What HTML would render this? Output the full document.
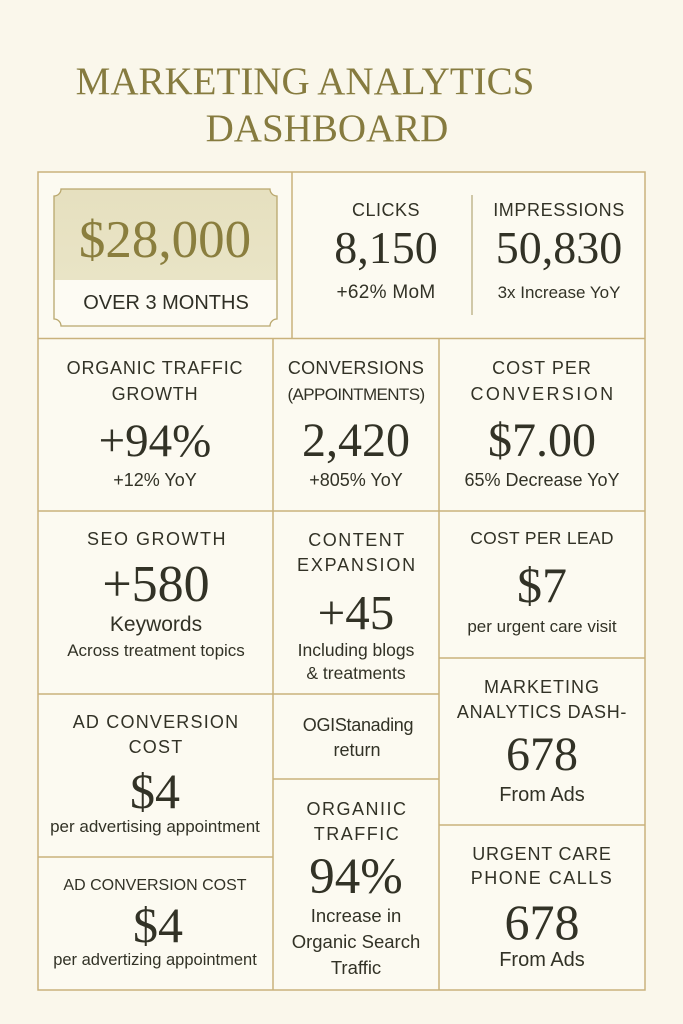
<!DOCTYPE html>
<html><head><meta charset="utf-8">
<style>
html,body{margin:0;padding:0;}
body{width:683px;height:1024px;background:#faf7eb;position:relative;overflow:hidden;}
.t{position:absolute;text-align:center;white-space:nowrap;line-height:1;color:#323226;}
.s{font-family:"Liberation Sans","DejaVu Sans",sans-serif;}
.r{font-family:"Liberation Serif","DejaVu Serif",serif;}
</style></head><body>
<svg width="683" height="1024" style="position:absolute;left:0;top:0">
  <defs>
    <linearGradient id="bx" x1="0" y1="0" x2="0" y2="1">
      <stop offset="0" stop-color="#e6e0bf"/>
      <stop offset="0.664" stop-color="#e9e4c6"/>
      <stop offset="0.664" stop-color="#fdfbf3"/>
      <stop offset="1" stop-color="#fdfbf3"/>
    </linearGradient>
  </defs>
  <rect x="38" y="172" width="607" height="818" fill="#fcfaf1"/>
  <g stroke="#c9b27c" stroke-width="1.5" fill="none">
    <rect x="38" y="172" width="607" height="818"/>
    <line x1="38" y1="338.5" x2="645" y2="338.5"/>
    <line x1="292" y1="172" x2="292" y2="338.5"/>
    <line x1="273" y1="338.5" x2="273" y2="990"/>
    <line x1="439" y1="338.5" x2="439" y2="990"/>
    <line x1="38" y1="511" x2="645" y2="511"/>
    <line x1="38" y1="694" x2="439" y2="694"/>
    <line x1="439" y1="658" x2="645" y2="658"/>
    <line x1="273" y1="779" x2="439" y2="779"/>
    <line x1="38" y1="857" x2="273" y2="857"/>
    <line x1="439" y1="825" x2="645" y2="825"/>
  </g>
  <line x1="472" y1="195" x2="472" y2="315" stroke="#b3a679" stroke-width="1.2"/>
  <path d="M61,189 H270 A7,7 0 0 0 277,196 V319 A7,7 0 0 0 270,326 H61 A7,7 0 0 0 54,319 V196 A7,7 0 0 0 61,189 Z" fill="url(#bx)" stroke="#b9a76d" stroke-width="1.3"/>
</svg>

<!-- Title -->
<div class="t r" style="left:5px;width:600px;top:61.5px;font-size:39px;color:#867b3f;">MARKETING ANALYTICS</div>
<div class="t r" style="left:27px;width:600px;top:108.5px;font-size:39px;color:#867b3f;">DASHBOARD</div>

<!-- $28,000 box -->
<div class="t r" style="left:15px;width:300px;top:213.5px;font-size:53px;color:#8a7e3e;">$28,000</div>
<div class="t s" style="left:16px;width:300px;top:293px;font-size:20px;color:#2f2f25;">OVER 3 MONTHS</div>

<!-- Clicks / Impressions -->
<div class="t s" style="left:236px;width:300px;top:201px;font-size:18px;letter-spacing:0.5px;">CLICKS</div>
<div class="t r" style="left:236px;width:300px;top:225px;font-size:46px;">8,150</div>
<div class="t s" style="left:236px;width:300px;top:282.5px;font-size:19px;letter-spacing:0.3px;">+62% MoM</div>
<div class="t s" style="left:409px;width:300px;top:201px;font-size:18px;letter-spacing:0.6px;">IMPRESSIONS</div>
<div class="t r" style="left:409px;width:300px;top:225px;font-size:46px;">50,830</div>
<div class="t s" style="left:409px;width:300px;top:283.5px;font-size:17px;">3x Increase YoY</div>

<!-- Row 2 -->
<div class="t s" style="left:5px;width:300px;top:359px;font-size:18px;letter-spacing:0.8px;">ORGANIC TRAFFIC</div>
<div class="t s" style="left:5px;width:300px;top:385px;font-size:18px;letter-spacing:0.8px;">GROWTH</div>
<div class="t r" style="left:5px;width:300px;top:417.5px;font-size:47px;">+94%</div>
<div class="t s" style="left:5px;width:300px;top:471px;font-size:18px;">+12% YoY</div>

<div class="t s" style="left:206px;width:300px;top:359px;font-size:18px;letter-spacing:0.3px;">CONVERSIONS</div>
<div class="t s" style="left:206px;width:300px;top:385.5px;font-size:17px;letter-spacing:-0.6px;">(APPOINTMENTS)</div>
<div class="t r" style="left:206px;width:300px;top:417px;font-size:48px;">2,420</div>
<div class="t s" style="left:206px;width:300px;top:471px;font-size:18px;">+805% YoY</div>

<div class="t s" style="left:392px;width:300px;top:359px;font-size:18px;letter-spacing:1px;">COST PER</div>
<div class="t s" style="left:393px;width:300px;top:385px;font-size:18px;letter-spacing:2.4px;">CONVERSION</div>
<div class="t r" style="left:392px;width:300px;top:417px;font-size:48px;">$7.00</div>
<div class="t s" style="left:392px;width:300px;top:471px;font-size:18px;">65% Decrease YoY</div>

<!-- Row 3 -->
<div class="t s" style="left:7px;width:300px;top:530px;font-size:18px;letter-spacing:1.5px;">SEO GROWTH</div>
<div class="t r" style="left:6px;width:300px;top:559px;font-size:52px;">+580</div>
<div class="t s" style="left:6px;width:300px;top:614px;font-size:21px;">Keywords</div>
<div class="t s" style="left:6px;width:300px;top:642px;font-size:17px;">Across treatment topics</div>

<div class="t s" style="left:207px;width:300px;top:531px;font-size:18px;letter-spacing:1.5px;">CONTENT</div>
<div class="t s" style="left:207px;width:300px;top:556px;font-size:18px;letter-spacing:1.8px;">EXPANSION</div>
<div class="t r" style="left:206px;width:300px;top:587.5px;font-size:49px;">+45</div>
<div class="t s" style="left:206px;width:300px;top:641.75px;font-size:17.5px;">Including blogs</div>
<div class="t s" style="left:206px;width:300px;top:665px;font-size:17.5px;">&amp; treatments</div>

<div class="t s" style="left:392px;width:300px;top:530px;font-size:17.5px;letter-spacing:0.3px;">COST PER LEAD</div>
<div class="t r" style="left:392px;width:300px;top:560px;font-size:50px;">$7</div>
<div class="t s" style="left:392px;width:300px;top:617.5px;font-size:17px;">per urgent care visit</div>

<div class="t s" style="left:392px;width:300px;top:678px;font-size:18px;letter-spacing:1px;">MARKETING</div>
<div class="t s" style="left:392px;width:300px;top:703px;font-size:18px;letter-spacing:0.7px;">ANALYTICS DASH-</div>
<div class="t r" style="left:392px;width:300px;top:731px;font-size:48px;">678</div>
<div class="t s" style="left:392px;width:300px;top:785px;font-size:20px;">From Ads</div>

<!-- Row 4 left -->
<div class="t s" style="left:6px;width:300px;top:713px;font-size:18px;letter-spacing:1.2px;">AD CONVERSION</div>
<div class="t s" style="left:6px;width:300px;top:738px;font-size:18px;letter-spacing:1.2px;">COST</div>
<div class="t r" style="left:5px;width:300px;top:766px;font-size:50px;">$4</div>
<div class="t s" style="left:5px;width:300px;top:818px;font-size:17px;">per advertising appointment</div>

<div class="t s" style="left:5px;width:300px;top:878px;font-size:16px;">AD CONVERSION COST</div>
<div class="t r" style="left:8px;width:300px;top:900px;font-size:50px;">$4</div>
<div class="t s" style="left:5px;width:300px;top:951.75px;font-size:16.5px;">per advertizing appointment</div>

<!-- Middle column lower -->
<div class="t s" style="left:208px;width:300px;top:716px;font-size:18px;letter-spacing:-0.3px;">OGIStanading</div>
<div class="t s" style="left:207px;width:300px;top:741px;font-size:18px;">return</div>

<div class="t s" style="left:207px;width:300px;top:800px;font-size:18px;letter-spacing:1.5px;">ORGANIIC</div>
<div class="t s" style="left:207px;width:300px;top:825px;font-size:18px;letter-spacing:1.5px;">TRAFFIC</div>
<div class="t r" style="left:206px;width:300px;top:851.5px;font-size:51px;">94%</div>
<div class="t s" style="left:206px;width:300px;top:906.75px;font-size:18.5px;">Increase in</div>
<div class="t s" style="left:206px;width:300px;top:932.75px;font-size:18.5px;">Organic Search</div>
<div class="t s" style="left:206px;width:300px;top:958.75px;font-size:18.5px;">Traffic</div>

<!-- Right bottom -->
<div class="t s" style="left:392px;width:300px;top:845px;font-size:18px;letter-spacing:0.8px;">URGENT CARE</div>
<div class="t s" style="left:392px;width:300px;top:869px;font-size:18px;letter-spacing:1.5px;">PHONE CALLS</div>
<div class="t r" style="left:392px;width:300px;top:897px;font-size:50px;">678</div>
<div class="t s" style="left:392px;width:300px;top:950px;font-size:20px;">From Ads</div>
</body></html>
